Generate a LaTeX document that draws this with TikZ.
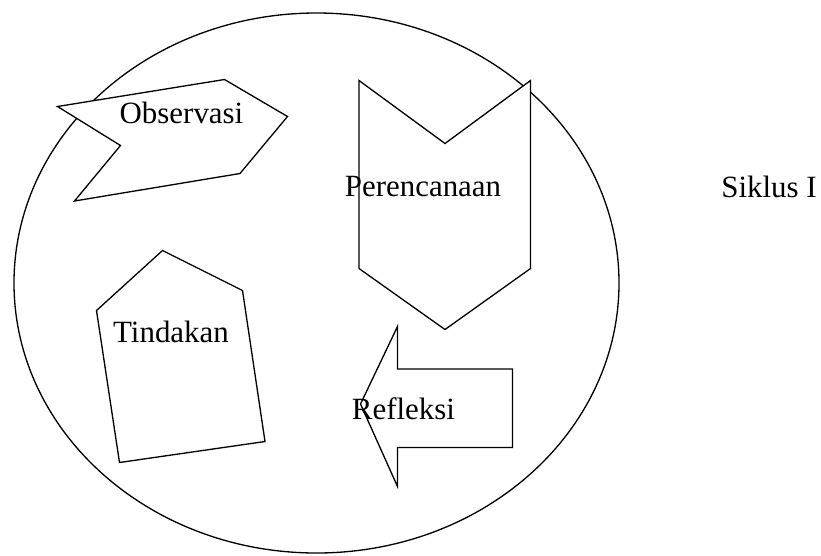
\documentclass[tikz,border=0pt]{standalone}
\usepackage{fontspec}
\setmainfont{Liberation Serif}
\usepackage{amsmath}

\begin{document}
\begin{tikzpicture}[line width=0.75pt, line join=miter,
    schild/.style={draw, fill=white},
    beschriftung/.style={inner sep=0pt, font=\fontsize{17.6}{21}\selectfont}]
    \useasboundingbox (0,0) rectangle (16.42,-11.10);
    % grosser Kreis:
    \draw (6.33,-5.66) ellipse [x radius=6.05, y radius=5.40];
    % Observasi:
    \draw[schild] (1.15,-2.13) -- (4.49,-1.59) -- (5.75,-2.33) -- (4.80,-3.47) -- (1.49,-4.02) -- (2.41,-2.91) -- cycle; % Pfeil nach rechts
    % Perencanaan:
    \draw[schild] (7.18,-1.61) -- (8.90,-2.87) -- (10.61,-1.61) -- (10.61,-5.37) -- (8.90,-6.59) -- (7.18,-5.37) -- cycle; % Winkel nach unten
    % Tindakan:
    \draw[schild] (3.25,-5.01) -- (4.85,-5.81) -- (5.30,-8.83) -- (2.39,-9.25) -- (1.93,-6.21) -- cycle; % Fuenfeck
    % Refleksi:
    \draw[schild] (7.21,-8.08) -- (7.95,-6.53) -- (7.95,-7.38) -- (10.25,-7.38) -- (10.25,-8.95) -- (7.95,-8.95) -- (7.95,-9.73) -- cycle; % Pfeil nach links
    % Beschriftungen:
    \node[beschriftung] (observasi) at (3.63,-2.25) {Observasi};
    \node[beschriftung] (perencanaan) at (8.46,-3.73) {Perencanaan};
    \node[beschriftung] (tindakan) at (3.42,-6.63) {Tindakan};
    \node[beschriftung] (refleksi) at (8.07,-8.17) {Refleksi};
    \node[beschriftung] (siklus) at (15.38,-3.73) {Siklus I};
\end{tikzpicture}
\end{document}
